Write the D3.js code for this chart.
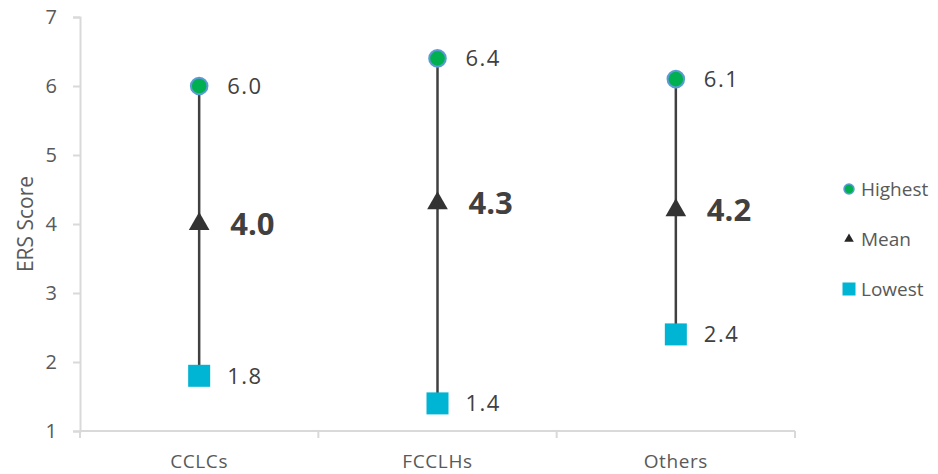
<!DOCTYPE html>
<html>
<head>
<meta charset="utf-8">
<script src="https://cdn.jsdelivr.net/npm/d3@7"></script>
<style>
  html, body { margin: 0; padding: 0; background: #fff; }
  svg { display: block; }
  text { font-family: "Open Sans", "DejaVu Sans", sans-serif; }
</style>
</head>
<body>
<svg id="chart" width="938" height="474"></svg>
<script>
// Provider types and ERS score summary per type
const categories = ["CCLCs", "FCCLHs", "Others"];
const highest = [6.0, 6.4, 6.1];
const mean = [4.0, 4.3, 4.2];
const lowest = [1.8, 1.4, 2.4];
const yTicks = [1, 2, 3, 4, 5, 6, 7];
const legendItems = ["Highest", "Mean", "Lowest"];

const svg = d3.select("#chart");
const margin = { left: 80, right: 143, top: 17, bottom: 43 };
const W = 938, H = 474;

const x = d3.scaleBand().domain(categories)
  .range([margin.left, W - margin.right]).paddingInner(0).paddingOuter(0);
const y = d3.scaleLinear().domain([1, 7]).range([H - margin.bottom, margin.top]);

const axisColor = "#d9d9d9";
const textColor = "#595959";
const markColor = "#404040";
const green = "#00b050", ringBlue = "#5b9bd5", cyan = "#00b4d4";

// Y axis
const yAxis = svg.append("g").attr("transform", `translate(${margin.left},0)`)
  .call(d3.axisLeft(y).tickValues(yTicks).tickSize(7).tickPadding(16).tickFormat(d3.format("d")));
yAxis.select(".domain").attr("stroke", axisColor).attr("stroke-width", 2);
yAxis.selectAll(".tick line").attr("stroke", axisColor).attr("stroke-width", 2);
yAxis.selectAll(".tick text").attr("fill", textColor).attr("font-size", 20)
  .style("font-family", "'Open Sans', sans-serif");

// X axis with ticks at band boundaries
const xAxisG = svg.append("g").attr("transform", `translate(0,${y(1)})`);
xAxisG.append("line")
  .attr("x1", x.range()[0]).attr("x2", x.range()[1])
  .attr("stroke", axisColor).attr("stroke-width", 2);
const bounds = categories.map(c => x(c)).concat([x.range()[1]]);
xAxisG.selectAll("line.xt").data(bounds).join("line").attr("class", "xt")
  .attr("x1", d => d).attr("x2", d => d).attr("y1", 0).attr("y2", 7)
  .attr("stroke", axisColor).attr("stroke-width", 2);
xAxisG.selectAll("text.xl").data(categories).join("text").attr("class", "xl")
  .attr("x", d => x(d) + x.bandwidth() / 2).attr("y", 37)
  .attr("text-anchor", "middle").attr("fill", textColor).attr("font-size", 19)
  .attr("letter-spacing", 0.6)
  .text(d => d);

// Y axis title
svg.append("text")
  .attr("transform", `translate(33,${(y(1) + y(7)) / 2}) rotate(-90)`)
  .attr("text-anchor", "middle").attr("fill", textColor).attr("font-size", 21)
  .text("ERS Score");

const cx = c => x(c) + x.bandwidth() / 2;

// Range lines
svg.selectAll("line.range").data(categories).join("line").attr("class", "range")
  .attr("x1", cx).attr("x2", cx)
  .attr("y1", (c, i) => y(highest[i])).attr("y2", (c, i) => y(lowest[i]))
  .attr("stroke", markColor).attr("stroke-width", 2.5);

// Lowest markers
svg.selectAll("rect.low").data(categories).join("rect").attr("class", "low")
  .attr("x", c => cx(c) - 11).attr("y", (c, i) => y(lowest[i]) - 11)
  .attr("width", 22).attr("height", 22).attr("fill", cyan);

// Mean markers
const tri = d3.symbol().type(d3.symbolTriangle).size(185);
svg.selectAll("path.mean").data(categories).join("path").attr("class", "mean")
  .attr("transform", (c, i) => `translate(${cx(c)},${y(mean[i])})`)
  .attr("d", tri).attr("fill", "#333333");

// Highest markers
svg.selectAll("circle.high").data(categories).join("circle").attr("class", "high")
  .attr("cx", cx).attr("cy", (c, i) => y(highest[i])).attr("r", 8.3)
  .attr("fill", green).attr("stroke", ringBlue).attr("stroke-width", 2);

// Value labels
const f1 = d3.format(".1f");
svg.selectAll("text.hl").data(categories).join("text").attr("class", "hl")
  .attr("x", c => cx(c) + 28).attr("y", (c, i) => y(highest[i]))
  .attr("dy", "0.36em").attr("fill", markColor).attr("font-size", 22).attr("letter-spacing", 1.5)
  .text((c, i) => f1(highest[i]));
svg.selectAll("text.ml").data(categories).join("text").attr("class", "ml")
  .attr("x", c => cx(c) + 31).attr("y", (c, i) => y(mean[i]))
  .attr("dy", "0.36em").attr("fill", markColor).attr("font-size", 31).attr("font-weight", "bold")
  .text((c, i) => f1(mean[i]));
svg.selectAll("text.ll").data(categories).join("text").attr("class", "ll")
  .attr("x", c => cx(c) + 28).attr("y", (c, i) => y(lowest[i]))
  .attr("dy", "0.36em").attr("fill", markColor).attr("font-size", 22).attr("letter-spacing", 1.5)
  .text((c, i) => f1(lowest[i]));

// Legend
const legend = svg.append("g").attr("transform", "translate(849,189)");
const rowH = 50;
legendItems.forEach((name, i) => {
  const g = legend.append("g").attr("transform", `translate(0,${i * rowH})`);
  if (i === 0) {
    g.append("circle").attr("r", 5).attr("fill", green)
      .attr("stroke", ringBlue).attr("stroke-width", 1.5);
  } else if (i === 1) {
    g.append("path").attr("d", d3.symbol().type(d3.symbolTriangle).size(40)).attr("fill", "#262626");
  } else {
    g.append("rect").attr("x", -6.5).attr("y", -6.5).attr("width", 13).attr("height", 13).attr("fill", cyan);
  }
  g.append("text").attr("x", 12).attr("y", 0).attr("dy", "0.36em")
    .attr("fill", textColor).attr("font-size", 19).text(name);
});
</script>
</body>
</html>
